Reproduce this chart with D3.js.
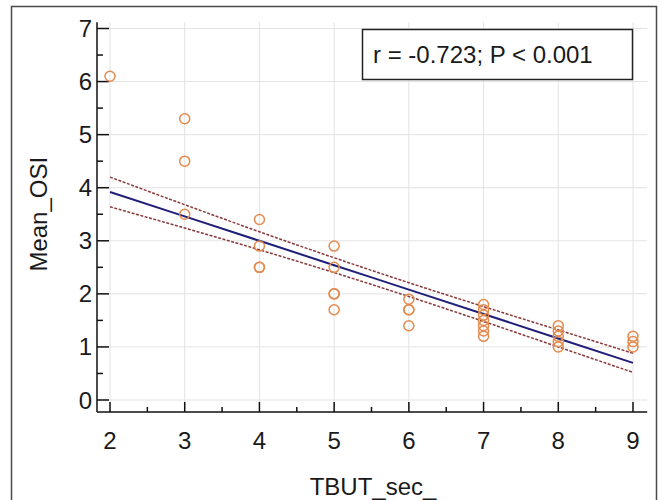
<!DOCTYPE html>
<html>
<head>
<meta charset="utf-8">
<script src="https://cdn.jsdelivr.net/npm/d3@7"></script>
<style>
  body { margin: 0; background: #fff; }
  svg { display: block; font-family: "Liberation Sans", Arial, sans-serif; }
</style>
</head>
<body>
<div id="container"></div>
<script>
var tbut = [2, 3, 3, 3, 4, 4, 4, 4, 5, 5, 5, 5, 5, 6, 6, 6, 6,
            7, 7, 7, 7, 7, 7, 7, 8, 8, 8, 8, 8, 9, 9, 9];
var osi  = [6.1, 5.3, 4.5, 3.5, 3.4, 2.9, 2.5, 2.5, 2.9, 2.5, 2.0, 2.0, 1.7, 1.9, 1.7, 1.7, 1.4,
            1.8, 1.7, 1.6, 1.5, 1.4, 1.3, 1.2, 1.4, 1.3, 1.2, 1.1, 1.0, 1.2, 1.1, 1.0];

// Regression line and confidence band
var fitX  = [2, 3, 4, 5, 6, 7, 8, 9];
var fitY  = [3.92, 3.46, 3.0, 2.54, 2.08, 1.62, 1.16, 0.70];
var upper = [4.20, 3.68, 3.17, 2.68, 2.21, 1.76, 1.32, 0.88];
var lower = [3.64, 3.24, 2.83, 2.40, 1.95, 1.48, 1.00, 0.52];

var xTicks = [2, 3, 4, 5, 6, 7, 8, 9];
var yTicks = [0, 1, 2, 3, 4, 5, 6, 7];
var statText = "r = -0.723; P < 0.001";

var width = 659, height = 500;
var fontSize = 24;

var svg = d3.select("#container").append("svg")
    .attr("width", width)
    .attr("height", height);

//Outer frame
svg.append("rect")
    .attr("x", 11.5).attr("y", 6.5)
    .attr("width", 645).attr("height", 500)
    .attr("fill", "none")
    .attr("stroke", "#4a4a4a")
    .attr("stroke-width", 1.5);

var x = d3.scaleLinear().domain([2, 9]).range([110, 633]);
var y = d3.scaleLinear().domain([0, 7]).range([400, 28.5]);

var axisX0 = x(1.826), axisX1 = x(9.19);
var axisY0 = y(-0.225), axisY1 = y(7.12);

//Grid
var grid = svg.append("g").attr("class", "grid")
    .attr("stroke", "#e3e3e3").attr("stroke-width", 1);
grid.selectAll("line.v").data(xTicks).enter().append("line")
    .attr("x1", function(d) { return x(d); }).attr("x2", function(d) { return x(d); })
    .attr("y1", axisY1).attr("y2", axisY0);
grid.selectAll("line.h").data(yTicks).enter().append("line")
    .attr("y1", function(d) { return y(d); }).attr("y2", function(d) { return y(d); })
    .attr("x1", axisX0).attr("x2", axisX1);

//Axes lines and ticks (inward)
var axes = svg.append("g").attr("stroke", "#111").attr("stroke-width", 1.5);
axes.append("line").attr("x1", axisX0).attr("x2", axisX0).attr("y1", axisY1).attr("y2", axisY0);
axes.append("line").attr("x1", axisX0).attr("x2", axisX1).attr("y1", axisY0).attr("y2", axisY0);

var yMinor = d3.range(0.5, 7, 1);
var xMinor = d3.range(2.5, 9, 1);
axes.selectAll("line.yt").data(yTicks).enter().append("line")
    .attr("x1", axisX0).attr("x2", axisX0 + 12)
    .attr("y1", function(d) { return y(d); }).attr("y2", function(d) { return y(d); });
axes.selectAll("line.ym").data(yMinor).enter().append("line")
    .attr("x1", axisX0).attr("x2", axisX0 + 6)
    .attr("y1", function(d) { return y(d); }).attr("y2", function(d) { return y(d); });
axes.selectAll("line.xt").data(xTicks).enter().append("line")
    .attr("x1", function(d) { return x(d); }).attr("x2", function(d) { return x(d); })
    .attr("y1", axisY0).attr("y2", axisY0 - 10);
axes.selectAll("line.xm").data(xMinor).enter().append("line")
    .attr("x1", function(d) { return x(d); }).attr("x2", function(d) { return x(d); })
    .attr("y1", axisY0).attr("y2", axisY0 - 5);

//Tick labels
svg.selectAll("text.yl").data(yTicks).enter().append("text")
    .attr("x", axisX0 - 5).attr("y", function(d) { return y(d) + 8.5; })
    .attr("text-anchor", "end").attr("font-size", fontSize).attr("fill", "#1a1a1a")
    .text(function(d) { return d; });
svg.selectAll("text.xl").data(xTicks).enter().append("text")
    .attr("x", function(d) { return x(d); }).attr("y", 449)
    .attr("text-anchor", "middle").attr("font-size", fontSize).attr("fill", "#1a1a1a")
    .text(function(d) { return d; });

//Axis titles
svg.append("text")
    .attr("x", 373).attr("y", 495)
    .attr("text-anchor", "middle").attr("font-size", fontSize).attr("fill", "#1a1a1a")
    .text("TBUT_sec_");
svg.append("text")
    .attr("transform", "translate(47," + y(3.5) + ") rotate(-90)")
    .attr("text-anchor", "middle").attr("font-size", fontSize).attr("fill", "#1a1a1a")
    .text("Mean_OSI");

//Confidence band and regression line
var line = d3.line()
    .x(function(d) { return x(d[0]); })
    .y(function(d) { return y(d[1]); })
    .curve(d3.curveMonotoneX);

[upper, lower].forEach(function(band) {
    svg.append("path")
        .datum(d3.zip(fitX, band))
        .attr("d", line)
        .attr("fill", "none")
        .attr("stroke", "#8a3a3a")
        .attr("stroke-width", 1.5)
        .attr("stroke-dasharray", "3,1.5");
});
svg.append("path")
    .datum(d3.zip(fitX, fitY))
    .attr("d", line)
    .attr("fill", "none")
    .attr("stroke", "#1f1f7a")
    .attr("stroke-width", 2);

//Points
svg.append("g").selectAll("circle")
    .data(d3.zip(tbut, osi))
    .enter().append("circle")
    .attr("cx", function(d) { return x(d[0]); })
    .attr("cy", function(d) { return y(d[1]); })
    .attr("r", 5)
    .attr("fill", "none")
    .attr("stroke", "#e38a4e")
    .attr("stroke-width", 1.5);

//Stats box
svg.append("rect")
    .attr("x", 362.5).attr("y", 29.5)
    .attr("width", 270).attr("height", 50)
    .attr("fill", "#fff")
    .attr("stroke", "#222")
    .attr("stroke-width", 1.5);
svg.append("text")
    .attr("x", 373).attr("y", 63)
    .attr("font-size", fontSize).attr("fill", "#1a1a1a")
    .text(statText);
</script>
</body>
</html>
